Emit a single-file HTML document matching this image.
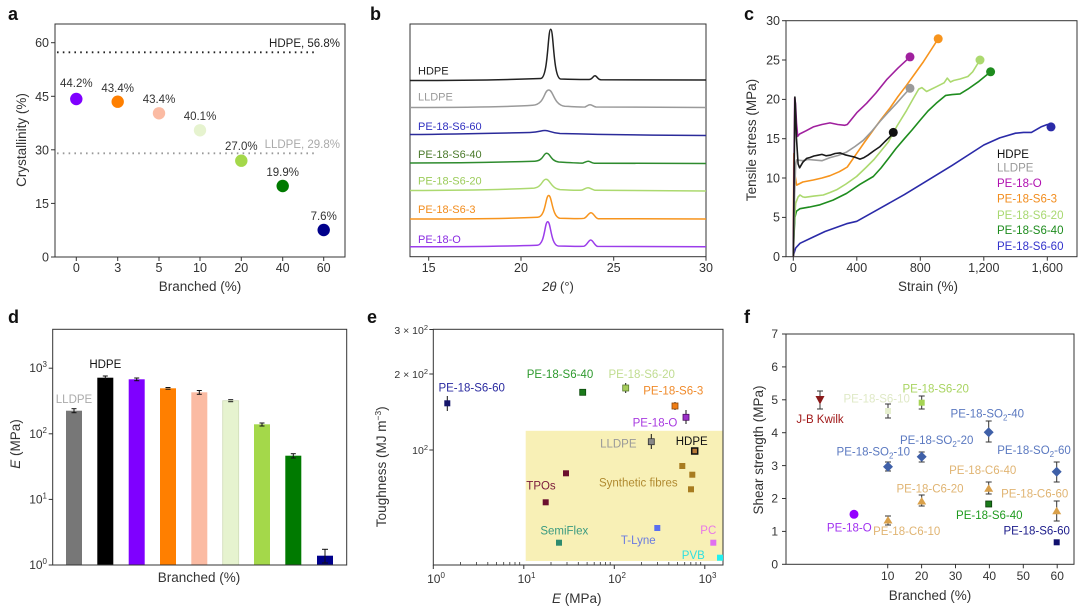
<!DOCTYPE html>
<html><head><meta charset="utf-8"><style>
html,body{margin:0;padding:0;background:#fff;}
svg{display:block;font-family:"Liberation Sans",Arial,sans-serif;}
</style></head><body>
<svg width="1080" height="606" viewBox="0 0 1080 606" xmlns="http://www.w3.org/2000/svg">
<rect width="1080" height="606" fill="#fff"/>

<!-- ============ PANEL A ============ -->
<text x="8" y="20" font-size="18" font-weight="bold" fill="#111">a</text>
<rect x="55" y="24" width="290" height="233" fill="none" stroke="#333" stroke-width="1"/>
<g stroke="#333" stroke-width="1">
<line x1="51" y1="257" x2="55" y2="257"/><line x1="51" y1="203.4" x2="55" y2="203.4"/><line x1="51" y1="149.8" x2="55" y2="149.8"/><line x1="51" y1="96.3" x2="55" y2="96.3"/><line x1="51" y1="42.7" x2="55" y2="42.7"/>
<line x1="76.3" y1="257" x2="76.3" y2="261"/><line x1="117.7" y1="257" x2="117.7" y2="261"/><line x1="159" y1="257" x2="159" y2="261"/><line x1="200" y1="257" x2="200" y2="261"/><line x1="241.3" y1="257" x2="241.3" y2="261"/><line x1="282.7" y1="257" x2="282.7" y2="261"/><line x1="323.7" y1="257" x2="323.7" y2="261"/>
</g>
<g font-size="12.5" fill="#333" text-anchor="end">
<text x="49" y="261.5">0</text><text x="49" y="208">15</text><text x="49" y="154.3">30</text><text x="49" y="100.8">45</text><text x="49" y="47.2">60</text>
</g>
<g font-size="12.5" fill="#333" text-anchor="middle">
<text x="76.3" y="272">0</text><text x="117.7" y="272">3</text><text x="159" y="272">5</text><text x="200" y="272">10</text><text x="241.3" y="272">20</text><text x="282.7" y="272">40</text><text x="323.7" y="272">60</text>
</g>
<text x="200" y="291" font-size="13.5" fill="#333" text-anchor="middle">Branched (%)</text>
<text transform="translate(26,140) rotate(-90)" font-size="13.5" fill="#333" text-anchor="middle">Crystallinity (%)</text>
<line x1="57" y1="52.3" x2="315" y2="52.3" stroke="#222" stroke-width="1.8" stroke-dasharray="1.6 4.2"/>
<line x1="57" y1="153.3" x2="315" y2="153.3" stroke="#999" stroke-width="1.8" stroke-dasharray="1.6 4.2"/>
<text x="340" y="47" font-size="11.5" fill="#222" text-anchor="end">HDPE, 56.8%</text>
<text x="340" y="148" font-size="11.5" fill="#aaa" text-anchor="end">LLDPE, 29.8%</text>
<circle cx="76.3" cy="99" r="6.2" fill="#7f00ff"/>
<circle cx="117.7" cy="101.7" r="6.2" fill="#ff7f00"/>
<circle cx="159" cy="113.3" r="6.2" fill="#fbbba3"/>
<circle cx="200" cy="130.3" r="6.2" fill="#e6f3cf"/>
<circle cx="241.3" cy="160.7" r="6.2" fill="#a4d84a"/>
<circle cx="282.7" cy="186" r="6.2" fill="#007a00"/>
<circle cx="323.7" cy="230" r="6.2" fill="#00008b"/>
<g font-size="11.5" fill="#333" text-anchor="middle">
<text x="76.3" y="87">44.2%</text><text x="117.7" y="92">43.4%</text><text x="159" y="103">43.4%</text><text x="200" y="120">40.1%</text><text x="241.3" y="150">27.0%</text><text x="282.7" y="176">19.9%</text><text x="323.7" y="220">7.6%</text>
</g>

<!-- ============ PANEL B ============ -->
<text x="370" y="20" font-size="18" font-weight="bold" fill="#111">b</text>
<rect x="410" y="24" width="296" height="232.7" fill="none" stroke="#333" stroke-width="1"/>
<g stroke="#333" stroke-width="1">
<line x1="428.7" y1="256.7" x2="428.7" y2="260.7"/><line x1="521" y1="256.7" x2="521" y2="260.7"/><line x1="613.7" y1="256.7" x2="613.7" y2="260.7"/><line x1="706" y1="256.7" x2="706" y2="260.7"/>
</g>
<g font-size="12.5" fill="#333" text-anchor="middle">
<text x="428.7" y="272">15</text><text x="521" y="272">20</text><text x="613.7" y="272">25</text><text x="706" y="272">30</text>
</g>
<text x="558" y="291" font-size="13" fill="#333" text-anchor="middle"><tspan font-style="italic">2θ</tspan> (°)</text>
<g fill="none" stroke-width="1.5">
<path stroke="#222" d="M410,80.5 C460,80.5 515,79.5 540.7,78.5 C548.2,78.3 547.7,29.3 550.7,29.3 C553.7,29.3 553.2,78.3 560.7,79 C575,79.5 585,79.6 589,79.5 C592.5,79.4 593,75.8 595,75.8 C597,75.8 597.5,79.6 601,79.8 L706,80"/>
<path stroke="#9a9a9a" d="M410,107.5 C470,107.5 515,106.5 532.7,105.3 C544.7,104.8 543.9,90 548.7,90 C553.5,90 553.5,104.8 564.7,106.3 C578,107 584,107.3 585,107 C587.5,106 588,104.8 590,104.8 C592,104.8 593.5,106.5 596,107 L706,107.5"/>
<path stroke="#2b2b9a" d="M410,134.5 C470,134 510,132.8 530,132.5 C540,132.2 540.5,130.5 545,130.5 C549.5,130.5 551,132.8 560,133.5 C600,134.5 650,135.3 706,135.5"/>
<path stroke="#2e8b2e" d="M410,163 C470,163 515,161.8 534.7,161.2 C543.7,160.8 543.1,153.3 546.7,153.3 C550.3,153.3 550.3,160.8 558.7,162 C575,163 582,163.2 583,163 C585.5,162.2 586.5,161.3 588.3,161.3 C590.1,161.3 591,162.6 594,163.2 L706,163.5"/>
<path stroke="#acd96f" d="M410,190.5 C470,190.5 515,189 532,188.3 C542.5,188 541.8,179.3 546,179.3 C550.2,179.3 550.5,188 560,189.6 C575,190.5 580,190.5 582,190 C584.5,189 586,187.8 588,187.8 C590,187.8 591.5,189.3 595,190.3 L706,191"/>
<path stroke="#f7941d" d="M410,219 C470,219 515,218.3 537.7,217.3 C545.9,216.8 545.4,195.5 548.7,195.5 C552,195.5 552,216.8 559.7,218.2 C575,218.7 582,218.7 584,218.3 C587,217.5 588.5,212.7 591,212.7 C593.5,212.7 595,218 598,218.7 L706,219"/>
<path stroke="#9b3dea" d="M410,246.8 C470,246.8 515,246 537.2,245.3 C545.1,244.9 544.5,221.7 547.7,221.7 C550.9,221.7 550.7,244.9 558.2,246 C575,246.5 582,246.6 584,246.2 C587,245.3 588.5,240 590.7,240 C592.9,240 594.5,245.5 597.5,246.4 L706,246.8"/>
</g>
<g font-size="11" text-anchor="start">
<text x="418" y="74.5" fill="#222">HDPE</text>
<text x="418" y="100.5" fill="#999">LLDPE</text>
<text x="418" y="130" fill="#3030c0">PE-18-S6-60</text>
<text x="418" y="158" fill="#4b7a2b">PE-18-S6-40</text>
<text x="418" y="184.5" fill="#9ccc5a">PE-18-S6-20</text>
<text x="418" y="213" fill="#f28c1c">PE-18-S6-3</text>
<text x="418" y="243" fill="#8a2be2">PE-18-O</text>
</g>

<!-- ============ PANEL C ============ -->
<text x="744" y="20" font-size="18" font-weight="bold" fill="#111">c</text>
<rect x="786" y="20.7" width="291" height="236" fill="none" stroke="#333" stroke-width="1"/>
<g stroke="#333" stroke-width="1">
<line x1="782" y1="256.7" x2="786" y2="256.7"/><line x1="782" y1="217.4" x2="786" y2="217.4"/><line x1="782" y1="178" x2="786" y2="178"/><line x1="782" y1="138.7" x2="786" y2="138.7"/><line x1="782" y1="99.4" x2="786" y2="99.4"/><line x1="782" y1="60" x2="786" y2="60"/><line x1="782" y1="20.7" x2="786" y2="20.7"/>
<line x1="793.3" y1="256.7" x2="793.3" y2="260.7"/><line x1="856.8" y1="256.7" x2="856.8" y2="260.7"/><line x1="920.3" y1="256.7" x2="920.3" y2="260.7"/><line x1="983.8" y1="256.7" x2="983.8" y2="260.7"/><line x1="1047.3" y1="256.7" x2="1047.3" y2="260.7"/>
</g>
<g font-size="12.5" fill="#333" text-anchor="end">
<text x="780" y="261">0</text><text x="780" y="221.7">5</text><text x="780" y="182.3">10</text><text x="780" y="143">15</text><text x="780" y="103.7">20</text><text x="780" y="64.3">25</text><text x="780" y="25">30</text>
</g>
<g font-size="12.5" fill="#333" text-anchor="middle">
<text x="793.3" y="272">0</text><text x="856.8" y="272">400</text><text x="920.3" y="272">800</text><text x="983.8" y="272">1,200</text><text x="1047.3" y="272">1,600</text>
</g>
<text x="928" y="291" font-size="13.5" fill="#333" text-anchor="middle">Strain (%)</text>
<text transform="translate(756,140) rotate(-90)" font-size="13.5" fill="#333" text-anchor="middle">Tensile stress (MPa)</text>
<g fill="none" stroke-width="1.6" stroke-linejoin="round">
<polyline stroke="#2a2aa8" points="793.3,256.7 793.9,253.6 795.7,248 800,243.3 813.3,237 825,231.5 846.6,223.7 856.8,221.3 880,208.3 904.4,194.6 920,185.1 952.1,165.4 983.8,145 999.7,137.9 1015.5,133.2 1023.5,132.4 1031.4,132.4 1041,126.9 1047.3,124.5 1050.5,126.9"/>
<polyline stroke="#1e8c1e" points="793.3,256.7 794.1,233.1 794.9,217.4 796.5,211.1 800,208.7 809.2,207.1 820,204.8 833,200.1 846.6,193.4 860,184.3 873.3,176.5 881,168 888.5,158.4 896,148.5 904.4,138.7 912,130 920.3,120 928,111 936.2,103.3 945.7,95.4 952.1,94.6 960,93.9 967.9,89.1 979,81.3 990.6,71.8"/>
<polyline stroke="#acd96f" points="793.3,256.7 794.1,225.2 795.7,203.2 798.1,196.9 800,195 802.8,196.9 805,197.3 813.9,196.1 823.3,195 830,192.5 836.6,189.8 846,184 856.6,176.5 866,167.5 874,159.5 888.5,141.8 897,126 906.6,110.4 913,99 918.7,89.1 921.9,87.6 926.6,91.5 936.2,86.8 944.1,82.8 947.3,78.1 950.5,82 953.6,80.5 960,79 967.9,76.5 972.7,71.8 977.5,64 980,60"/>
<polyline stroke="#f7941d" points="793.3,256.7 793.8,153.6 794.9,174.1 796.6,185.1 802.8,182 813.3,180 822,178 830,175.7 839.3,171.7 843.3,169.4 847.3,167 856.6,153.6 865,141.5 873.3,130 881,119.5 890,108 898,96.5 906.6,85.2 915,73.5 923.5,61.6 931,50 938.2,38.8"/>
<polyline stroke="#9a9a9a" points="793.3,256.7 794.6,193.8 795.7,163.9 796.6,159.9 802.8,160.7 808,159.5 813.3,159.9 821.9,160.7 830,157.6 838,155.5 846.6,152.1 855,146.5 863.3,140.3 872,131 880,121.4 888,112.5 896.6,103.3 903,96 910,88.3"/>
<polyline stroke="#a0209e" points="793.3,256.7 793.9,178 794.7,97.8 795.5,103.3 796.5,122.9 797.7,136.3 799.6,134 806,130.8 813.3,126.9 821.9,124.5 830,122.9 837.7,124.5 844.9,125.3 847.3,124.5 856.8,112.7 866.6,103.3 875.8,93.1 886.6,79.7 898.1,67.9 910,56.9"/>
<polyline stroke="#1a1a1a" points="793.3,256.7 794.1,178 794.9,97 795.5,107.2 796.5,138.7 798.1,163.9 799.6,167.8 802.8,162.3 806.6,158.4 810,157.5 813.9,156 818,155.2 821.9,154.4 826,155.8 830,155.2 835,153.5 840,152.9 845,154.8 850,156 855,157.2 860,159.1 864,157.6 867.9,155.2 874.3,150.5 880,146.6 885,141.5 890,136.7 893.3,132.4"/>
</g>
<circle cx="1051" cy="126.9" r="4.5" fill="#2a2aa8"/>
<circle cx="990.6" cy="71.8" r="4.5" fill="#1e8c1e"/>
<circle cx="980" cy="60" r="4.5" fill="#acd96f"/>
<circle cx="938.2" cy="38.8" r="4.5" fill="#f7941d"/>
<circle cx="910" cy="88.3" r="4.5" fill="#9a9a9a"/>
<circle cx="910" cy="56.9" r="4.5" fill="#a0209e"/>
<circle cx="893.3" cy="132.4" r="4.5" fill="#111"/>
<g font-size="11.5" text-anchor="start">
<text x="997" y="158" fill="#111">HDPE</text>
<text x="997" y="171.7" fill="#999">LLDPE</text>
<text x="997" y="187" fill="#b010b0">PE-18-O</text>
<text x="997" y="202.7" fill="#f28c1c">PE-18-S6-3</text>
<text x="997" y="219" fill="#a8d870">PE-18-S6-20</text>
<text x="997" y="234" fill="#1e8c1e">PE-18-S6-40</text>
<text x="997" y="250" fill="#3333cc">PE-18-S6-60</text>
</g>

<!-- ============ PANEL D ============ -->
<text x="8" y="323" font-size="18" font-weight="bold" fill="#111">d</text>
<g>
<rect x="66" y="410.7" width="16" height="154.3" fill="#777"/>
<rect x="97.3" y="377.7" width="16" height="187.3" fill="#000"/>
<rect x="128.7" y="379.3" width="16" height="185.7" fill="#7f00ff"/>
<rect x="160" y="388.3" width="16" height="176.7" fill="#ff7f00"/>
<rect x="191.3" y="392.3" width="16" height="172.7" fill="#fbbba3"/>
<rect x="222.7" y="400.7" width="16" height="164.3" fill="#e6f3cf" stroke="#cfdcb8" stroke-width="0.8"/>
<rect x="254" y="424.3" width="16" height="140.7" fill="#a4d84a"/>
<rect x="285.3" y="455.7" width="16" height="109.3" fill="#007a00"/>
<rect x="317" y="555.7" width="16" height="9.3" fill="#00008b"/>
</g>
<g stroke="#111" stroke-width="1">
<line x1="74" y1="408.7" x2="74" y2="412.7"/><line x1="71.5" y1="408.7" x2="76.5" y2="408.7"/><line x1="71.5" y1="412.7" x2="76.5" y2="412.7"/>
<line x1="105.3" y1="376" x2="105.3" y2="379.5"/><line x1="102.8" y1="376" x2="107.8" y2="376"/>
<line x1="136.7" y1="378" x2="136.7" y2="380.7"/><line x1="134.2" y1="378" x2="139.2" y2="378"/><line x1="134.2" y1="380.7" x2="139.2" y2="380.7"/>
<line x1="165.5" y1="387.5" x2="170.5" y2="387.5"/><line x1="165.5" y1="389.2" x2="170.5" y2="389.2"/>
<line x1="199.3" y1="390.5" x2="199.3" y2="394.3"/><line x1="196.8" y1="390.5" x2="201.8" y2="390.5"/><line x1="196.8" y1="394.3" x2="201.8" y2="394.3"/>
<line x1="228.2" y1="399.7" x2="233.2" y2="399.7"/><line x1="228.2" y1="401.7" x2="233.2" y2="401.7"/>
<line x1="262" y1="423" x2="262" y2="426"/><line x1="259.5" y1="423" x2="264.5" y2="423"/><line x1="259.5" y1="426" x2="264.5" y2="426"/>
<line x1="293.3" y1="453.7" x2="293.3" y2="458"/><line x1="290.8" y1="453.7" x2="295.8" y2="453.7"/><line x1="290.8" y1="458" x2="295.8" y2="458"/>
<line x1="325" y1="549.3" x2="325" y2="563"/><line x1="322" y1="549.3" x2="328" y2="549.3"/><line x1="322" y1="563" x2="328" y2="563"/>
</g>
<rect x="52.7" y="329.3" width="294" height="235.7" fill="none" stroke="#333" stroke-width="1"/>
<g stroke="#333" stroke-width="1">
<line x1="48.7" y1="565" x2="52.7" y2="565"/><line x1="48.7" y1="499.4" x2="52.7" y2="499.4"/><line x1="48.7" y1="433.8" x2="52.7" y2="433.8"/><line x1="48.7" y1="368.2" x2="52.7" y2="368.2"/>
</g>
<g font-size="12" fill="#333" text-anchor="end">
<text x="47" y="569">10<tspan dy="-5" font-size="8">0</tspan></text>
<text x="47" y="503.4">10<tspan dy="-5" font-size="8">1</tspan></text>
<text x="47" y="437.8">10<tspan dy="-5" font-size="8">2</tspan></text>
<text x="47" y="372.2">10<tspan dy="-5" font-size="8">3</tspan></text>
</g>
<text x="74" y="403" font-size="11.5" fill="#aaa" text-anchor="middle">LLDPE</text>
<text x="105.3" y="368" font-size="11.5" fill="#111" text-anchor="middle">HDPE</text>
<text x="199" y="582" font-size="13.5" fill="#333" text-anchor="middle">Branched (%)</text>
<text transform="translate(20,444) rotate(-90)" font-size="13.5" fill="#333" text-anchor="middle"><tspan font-style="italic">E</tspan> (MPa)</text>

<!-- ============ PANEL E ============ -->
<text x="367" y="323" font-size="18" font-weight="bold" fill="#111">e</text>
<rect x="525.7" y="430.8" width="197.3" height="130.2" fill="#f8f0b6"/>
<rect x="433.3" y="329.3" width="289.7" height="235.7" fill="none" stroke="#333" stroke-width="1"/>
<g stroke="#333" stroke-width="1">
<line x1="433.3" y1="565" x2="433.3" y2="569"/><line x1="523.8" y1="565" x2="523.8" y2="569"/><line x1="614.3" y1="565" x2="614.3" y2="569"/><line x1="704.8" y1="565" x2="704.8" y2="569"/>
<line x1="429.3" y1="329.5" x2="433.3" y2="329.5"/><line x1="429.3" y1="374" x2="433.3" y2="374"/><line x1="429.3" y1="450" x2="433.3" y2="450"/>
</g>
<g stroke="#333" stroke-width="0.8">
<line x1="460.5" y1="565" x2="460.5" y2="562"/><line x1="476.5" y1="565" x2="476.5" y2="562"/><line x1="487.8" y1="565" x2="487.8" y2="562"/><line x1="496.6" y1="565" x2="496.6" y2="562"/><line x1="503.7" y1="565" x2="503.7" y2="562"/><line x1="509.8" y1="565" x2="509.8" y2="562"/><line x1="515" y1="565" x2="515" y2="562"/><line x1="519.7" y1="565" x2="519.7" y2="562"/>
<line x1="551" y1="565" x2="551" y2="562"/><line x1="567" y1="565" x2="567" y2="562"/><line x1="578.3" y1="565" x2="578.3" y2="562"/><line x1="587.1" y1="565" x2="587.1" y2="562"/><line x1="594.2" y1="565" x2="594.2" y2="562"/><line x1="600.3" y1="565" x2="600.3" y2="562"/><line x1="605.5" y1="565" x2="605.5" y2="562"/><line x1="610.2" y1="565" x2="610.2" y2="562"/>
<line x1="641.5" y1="565" x2="641.5" y2="562"/><line x1="657.5" y1="565" x2="657.5" y2="562"/><line x1="668.8" y1="565" x2="668.8" y2="562"/><line x1="677.6" y1="565" x2="677.6" y2="562"/><line x1="684.7" y1="565" x2="684.7" y2="562"/><line x1="690.8" y1="565" x2="690.8" y2="562"/><line x1="696" y1="565" x2="696" y2="562"/><line x1="700.7" y1="565" x2="700.7" y2="562"/>
</g>
<g font-size="12" fill="#333" text-anchor="middle">
<text x="436" y="583">10<tspan dy="-5" font-size="8">0</tspan></text>
<text x="526.5" y="583">10<tspan dy="-5" font-size="8">1</tspan></text>
<text x="617" y="583">10<tspan dy="-5" font-size="8">2</tspan></text>
<text x="707.5" y="583">10<tspan dy="-5" font-size="8">3</tspan></text>
</g>
<g font-size="10.5" fill="#333" text-anchor="end">
<text x="428" y="334">3 × 10<tspan dy="-4" font-size="7.5">2</tspan></text>
<text x="428" y="378">2 × 10<tspan dy="-4" font-size="7.5">2</tspan></text>
<text x="428" y="454">10<tspan dy="-4" font-size="7.5">2</tspan></text>
</g>
<text x="576.7" y="603" font-size="13.5" fill="#333" text-anchor="middle"><tspan font-style="italic">E</tspan> (MPa)</text>
<text transform="translate(386,466.7) rotate(-90)" font-size="13.5" fill="#333" text-anchor="middle">Toughness (MJ m<tspan dy="-5" font-size="8.5">−3</tspan><tspan dy="5">)</tspan></text>
<g stroke="#111" stroke-width="1">
<line x1="447.3" y1="396" x2="447.3" y2="411"/>
<line x1="625.7" y1="383" x2="625.7" y2="393"/>
<line x1="686" y1="410" x2="686" y2="424"/>
<line x1="651.3" y1="434" x2="651.3" y2="449"/>
<line x1="675" y1="402" x2="675" y2="410"/>
</g>
<rect x="444.3" y="400.3" width="6" height="6" fill="#15156b"/>
<rect x="579.7" y="389.3" width="6" height="6" fill="#1a7a1a" stroke="#0c4a0c" stroke-width="0.8"/>
<rect x="622.7" y="385" width="6" height="6" fill="#a6cc5c" stroke="#5a7a30" stroke-width="0.8"/>
<rect x="672" y="403" width="6" height="6" fill="#f07d14" stroke="#8a4a10" stroke-width="0.8"/>
<rect x="683" y="414.3" width="6" height="6" fill="#9b30c8" stroke="#4a1060" stroke-width="0.8"/>
<rect x="648.3" y="438.7" width="6" height="6" fill="#888" stroke="#333" stroke-width="0.8"/>
<rect x="691.7" y="448" width="6" height="6" fill="#b87a3a" stroke="#111" stroke-width="1.5"/>
<rect x="563" y="470.3" width="6" height="6" fill="#6b0f2e"/>
<rect x="542.7" y="499.3" width="6" height="6" fill="#6b0f2e"/>
<rect x="679.3" y="463" width="6" height="6" fill="#a87c20"/>
<rect x="689.3" y="471.7" width="6" height="6" fill="#a87c20"/>
<rect x="688" y="486.3" width="6" height="6" fill="#a87c20"/>
<rect x="556" y="539.7" width="6" height="6" fill="#2e8b6e"/>
<rect x="654.3" y="525" width="6" height="6" fill="#5b6ff0"/>
<rect x="710.3" y="539.7" width="6" height="6" fill="#e070f0"/>
<rect x="717" y="554.7" width="6" height="6" fill="#20f0f0"/>
<g font-size="11.5" text-anchor="middle">
<text x="471.7" y="391.3" fill="#2a2aa0">PE-18-S6-60</text>
<text x="560" y="378" fill="#2e9a2e">PE-18-S6-40</text>
<text x="641.7" y="378" fill="#c0dc90">PE-18-S6-20</text>
<text x="673.3" y="394.7" fill="#f08a2a">PE-18-S6-3</text>
<text x="655" y="426.3" fill="#a83ae0">PE-18-O</text>
<text x="618.3" y="447.3" fill="#999">LLDPE</text>
<text x="691.7" y="445" fill="#111">HDPE</text>
<text x="541" y="489.3" fill="#7a1a3a">TPOs</text>
<text x="638.3" y="486.3" fill="#b08a30">Synthetic fibres</text>
<text x="564.3" y="534.7" fill="#3a9a80">SemiFlex</text>
<text x="638.3" y="544" fill="#6a7be0">T-Lyne</text>
<text x="708.3" y="534" fill="#e878e8">PC</text>
<text x="693.3" y="559" fill="#30e0e0">PVB</text>
</g>

<!-- ============ PANEL F ============ -->
<text x="744" y="323" font-size="18" font-weight="bold" fill="#111">f</text>
<rect x="786" y="334" width="288" height="230.3" fill="none" stroke="#333" stroke-width="1"/>
<g stroke="#333" stroke-width="1">
<line x1="782" y1="564.3" x2="786" y2="564.3"/><line x1="782" y1="531.4" x2="786" y2="531.4"/><line x1="782" y1="498.5" x2="786" y2="498.5"/><line x1="782" y1="465.6" x2="786" y2="465.6"/><line x1="782" y1="432.7" x2="786" y2="432.7"/><line x1="782" y1="399.8" x2="786" y2="399.8"/><line x1="782" y1="366.9" x2="786" y2="366.9"/><line x1="782" y1="334" x2="786" y2="334"/>
<line x1="887.7" y1="564.3" x2="887.7" y2="568.3"/><line x1="921.6" y1="564.3" x2="921.6" y2="568.3"/><line x1="955.5" y1="564.3" x2="955.5" y2="568.3"/><line x1="989.4" y1="564.3" x2="989.4" y2="568.3"/><line x1="1023.3" y1="564.3" x2="1023.3" y2="568.3"/><line x1="1057.2" y1="564.3" x2="1057.2" y2="568.3"/>
</g>
<g font-size="12" fill="#333" text-anchor="end">
<text x="778" y="568.5">0</text><text x="778" y="535.6">1</text><text x="778" y="502.7">2</text><text x="778" y="469.8">3</text><text x="778" y="436.9">4</text><text x="778" y="404">5</text><text x="778" y="371.1">6</text><text x="778" y="338.2">7</text>
</g>
<g font-size="12" fill="#333" text-anchor="middle">
<text x="887.7" y="580">10</text><text x="921.6" y="580">20</text><text x="955.5" y="580">30</text><text x="989.4" y="580">40</text><text x="1023.3" y="580">50</text><text x="1057.2" y="580">60</text>
</g>
<text x="930" y="600" font-size="13.5" fill="#333" text-anchor="middle">Branched (%)</text>
<text transform="translate(763,450) rotate(-90)" font-size="13.5" fill="#333" text-anchor="middle">Shear strength (MPa)</text>
<g stroke="#333" stroke-width="1">
<line x1="820" y1="391" x2="820" y2="409"/><line x1="817" y1="391" x2="823" y2="391"/><line x1="817" y1="409" x2="823" y2="409"/>
<line x1="888" y1="404" x2="888" y2="418"/><line x1="885" y1="404" x2="891" y2="404"/><line x1="885" y1="418" x2="891" y2="418"/>
<line x1="921.7" y1="396" x2="921.7" y2="409"/><line x1="918.7" y1="396" x2="924.7" y2="396"/><line x1="918.7" y1="409" x2="924.7" y2="409"/>
<line x1="888" y1="462" x2="888" y2="471"/><line x1="885" y1="462" x2="891" y2="462"/><line x1="885" y1="471" x2="891" y2="471"/>
<line x1="921.7" y1="452" x2="921.7" y2="462"/><line x1="918.7" y1="452" x2="924.7" y2="452"/><line x1="918.7" y1="462" x2="924.7" y2="462"/>
<line x1="988.7" y1="421" x2="988.7" y2="442"/><line x1="985.7" y1="421" x2="991.7" y2="421"/><line x1="985.7" y1="442" x2="991.7" y2="442"/>
<line x1="1056.7" y1="462" x2="1056.7" y2="482"/><line x1="1053.7" y1="462" x2="1059.7" y2="462"/><line x1="1053.7" y1="482" x2="1059.7" y2="482"/>
<line x1="888" y1="516" x2="888" y2="525"/><line x1="885" y1="516" x2="891" y2="516"/><line x1="885" y1="525" x2="891" y2="525"/>
<line x1="921.7" y1="495" x2="921.7" y2="506"/><line x1="918.7" y1="495" x2="924.7" y2="495"/><line x1="918.7" y1="506" x2="924.7" y2="506"/>
<line x1="988.7" y1="482" x2="988.7" y2="494"/><line x1="985.7" y1="482" x2="991.7" y2="482"/><line x1="985.7" y1="494" x2="991.7" y2="494"/>
<line x1="1056.7" y1="501" x2="1056.7" y2="521"/><line x1="1053.7" y1="501" x2="1059.7" y2="501"/><line x1="1053.7" y1="521" x2="1059.7" y2="521"/>
</g>
<polygon points="815.5,396 824.5,396 820,404.5" fill="#8b1a1a"/>
<circle cx="854" cy="514.3" r="4.5" fill="#9400ff"/>
<rect x="885" y="408" width="6" height="6" fill="#e6efcf"/>
<rect x="918.7" y="399.7" width="6" height="6" fill="#a6d454"/>
<rect x="985.7" y="501" width="6" height="6" fill="#1a7a1a" stroke="#0c3a0c" stroke-width="0.8"/>
<rect x="1053.7" y="539.3" width="6" height="6" fill="#10106e"/>
<g fill="#3f60a8">
<polygon points="888,461.7 893,466.7 888,471.7 883,466.7"/>
<polygon points="921.7,451.7 926.7,456.7 921.7,461.7 916.7,456.7"/>
<polygon points="988.7,427.3 993.7,432.3 988.7,437.3 983.7,432.3"/>
<polygon points="1056.7,466.7 1061.7,471.7 1056.7,476.7 1051.7,471.7"/>
</g>
<g fill="#d9a04a">
<polygon points="888,516 892.5,523.5 883.5,523.5"/>
<polygon points="921.7,497 926.2,504.5 917.2,504.5"/>
<polygon points="988.7,484.3 993.2,491.8 984.2,491.8"/>
<polygon points="1056.7,506.7 1061.2,514.2 1052.2,514.2"/>
</g>
<g font-size="11.5" text-anchor="middle">
<text x="820" y="423" fill="#a01818">J-B Kwilk</text>
<text x="849.3" y="531.7" fill="#a030f0">PE-18-O</text>
<text x="876.7" y="402.3" fill="#dfe9c6">PE-18-S6-10</text>
<text x="935.7" y="392.3" fill="#a8d460">PE-18-S6-20</text>
<text x="873.3" y="455.7" fill="#5a78c0">PE-18-SO<tspan dy="3" font-size="8">2</tspan><tspan dy="-3">-10</tspan></text>
<text x="936.7" y="444" fill="#5a78c0">PE-18-SO<tspan dy="3" font-size="8">2</tspan><tspan dy="-3">-20</tspan></text>
<text x="987.3" y="417.3" fill="#5a78c0">PE-18-SO<tspan dy="3" font-size="8">2</tspan><tspan dy="-3">-40</tspan></text>
<text x="1034" y="454" fill="#5a78c0">PE-18-SO<tspan dy="3" font-size="8">2</tspan><tspan dy="-3">-60</tspan></text>
<text x="906.7" y="535" fill="#e0b472">PE-18-C6-10</text>
<text x="930" y="492.7" fill="#e0b472">PE-18-C6-20</text>
<text x="982.7" y="474" fill="#e0b472">PE-18-C6-40</text>
<text x="1034.7" y="497.3" fill="#e0b472">PE-18-C6-60</text>
<text x="989.3" y="519" fill="#1e9a1e">PE-18-S6-40</text>
<text x="1036.7" y="534.7" fill="#1a1a8a">PE-18-S6-60</text>
</g>
</svg>
</body></html>
